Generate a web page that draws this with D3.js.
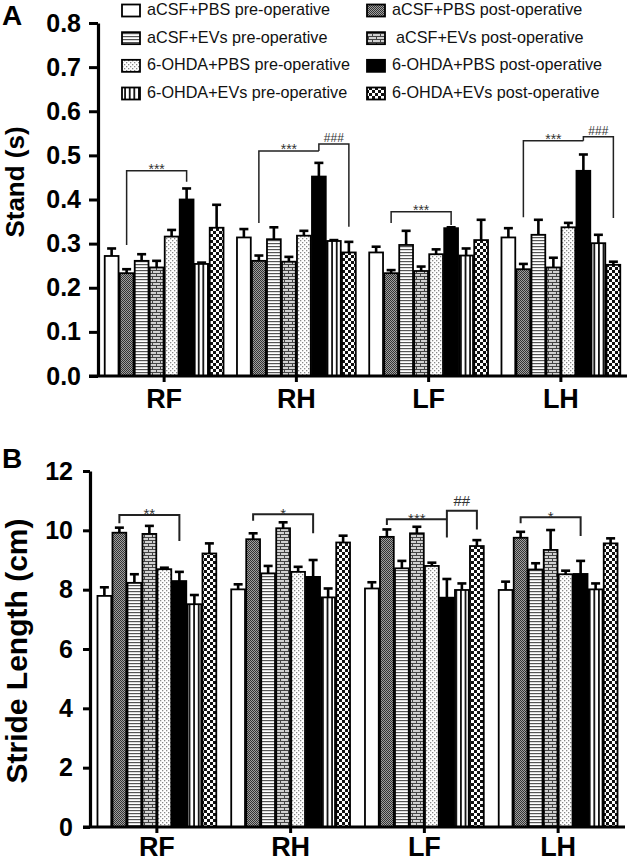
<!DOCTYPE html>
<html><head><meta charset="utf-8">
<script src="https://cdn.jsdelivr.net/npm/d3@7"></script>
<style>
body{margin:0;background:#fff}
svg{display:block}
text{font-family:"Liberation Sans",Arial,Helvetica,sans-serif}
</style>
</head><body>
<svg id="chart" width="630" height="863"></svg>
<script>
// ---------------- DATA ----------------
const categories = ["RF", "RH", "LF", "LH"];
const groups = [
  "aCSF+PBS pre-operative", "aCSF+PBS post-operative",
  "aCSF+EVs pre-operative", "aCSF+EVs post-operative",
  "6-OHDA+PBS pre-operative", "6-OHDA+PBS post-operative",
  "6-OHDA+EVs pre-operative", "6-OHDA+EVs post-operative"
];
// legend layout order (column 1: pre-operative, column 2: post-operative)
const legendOrder = [0, 2, 4, 6, 1, 3, 5, 7];

// Panel A: Stand (s), mean per group in each paw
const standRF = [0.272, 0.233, 0.261, 0.246, 0.316, 0.400, 0.254, 0.336];
const standRH = [0.314, 0.261, 0.310, 0.259, 0.318, 0.452, 0.306, 0.280];
const standLF = [0.280, 0.233, 0.297, 0.238, 0.276, 0.335, 0.273, 0.308];
const standLH = [0.314, 0.242, 0.320, 0.246, 0.337, 0.465, 0.301, 0.252];
// Panel A: SEM
const standErrRF = [0.017, 0.009, 0.015, 0.015, 0.015, 0.025, 0.003, 0.052];
const standErrRH = [0.019, 0.012, 0.027, 0.011, 0.011, 0.031, 0.002, 0.024];
const standErrLF = [0.013, 0.007, 0.032, 0.010, 0.011, 0.002, 0.016, 0.046];
const standErrLH = [0.021, 0.012, 0.034, 0.022, 0.010, 0.037, 0.019, 0.007];

// Panel B: Stride length (cm)
const strideRF = [7.79, 9.92, 8.23, 9.88, 8.69, 8.29, 7.51, 9.22];
const strideRH = [8.01, 9.70, 8.55, 10.07, 8.60, 8.43, 7.74, 9.59];
const strideLF = [8.04, 9.78, 8.72, 9.90, 8.80, 7.73, 7.99, 9.47];
const strideLH = [7.99, 9.75, 8.68, 9.34, 8.52, 8.53, 8.01, 9.56];
const strideErrRF = [0.29, 0.17, 0.29, 0.27, 0.05, 0.31, 0.31, 0.34];
const strideErrRH = [0.17, 0.20, 0.25, 0.20, 0.17, 0.57, 0.30, 0.23];
const strideErrLF = [0.21, 0.25, 0.25, 0.22, 0.11, 0.63, 0.22, 0.20];
const strideErrLH = [0.28, 0.20, 0.21, 0.67, 0.12, 0.44, 0.20, 0.17];

// Tick labels
const standTicks = [0, 0.1, 0.2, 0.3, 0.4, 0.5, 0.6, 0.7, 0.8];
const strideTicks = [0, 2, 4, 6, 8, 10, 12];

// Significance brackets (bar indices, heights in data units)
const standSig = [
  {cat: "RF", from: 1, to: 5, top: 0.465, left: 0.297, right: 0.440, label: "***"},
  {cat: "RH", from: 1, to: 5, top: 0.510, left: 0.347, right: 0.510, label: "***"},
  {cat: "RH", from: 5, to: 7, top: 0.526, left: 0.510, right: 0.338, label: "###"},
  {cat: "LF", from: 1, to: 5, top: 0.372, left: 0.347, right: 0.342, label: "***"},
  {cat: "LH", from: 1, to: 5, top: 0.533, left: 0.360, right: 0.533, label: "***"},
  {cat: "LH", from: 5, to: 7, top: 0.542, left: 0.533, right: 0.358, label: "###"}
];
const strideSig = [
  {cat: "RF", from: 1, to: 5, top: 10.52, left: 10.24, right: 9.64, label: "**"},
  {cat: "RH", from: 1, to: 5, top: 10.54, left: 10.32, right: 9.90, label: "*"},
  {cat: "LF", from: 1, to: 5, top: 10.37, left: 10.18, right: 10.37, label: "***"},
  {cat: "LF", from: 5, to: 7, top: 10.66, left: 9.76, right: 10.03, label: "##"},
  {cat: "LH", from: 1, to: 5, top: 10.44, left: 10.24, right: 9.81, label: "*"}
];

const standData = {RF: standRF, RH: standRH, LF: standLF, LH: standLH};
const standErr = {RF: standErrRF, RH: standErrRH, LF: standErrLF, LH: standErrLH};
const strideData = {RF: strideRF, RH: strideRH, LF: strideLF, LH: strideLH};
const strideErr = {RF: strideErrRF, RH: strideErrRH, LF: strideErrLF, LH: strideErrLH};

// ---------------- DRAW ----------------
const svg = d3.select("#chart");
const defs = svg.append("defs");

function pattern(id, w, h, build) {
  const p = defs.append("pattern").attr("id", id)
    .attr("patternUnits", "userSpaceOnUse").attr("width", w).attr("height", h);
  build(p);
}
pattern("pDark", 2, 2, p => {
  p.append("rect").attr("width", 2).attr("height", 2).attr("fill", "#a0a0a0");
  p.append("rect").attr("width", 1).attr("height", 1).attr("fill", "#333");
  p.append("rect").attr("x", 1).attr("y", 1).attr("width", 1).attr("height", 1).attr("fill", "#333");
});
pattern("pHLines", 4, 3, p => {
  p.append("rect").attr("width", 4).attr("height", 3).attr("fill", "#fff");
  p.append("rect").attr("width", 4).attr("height", 1.2).attr("fill", "#555");
});
pattern("pBrick", 8, 6, p => {
  p.append("rect").attr("width", 8).attr("height", 6).attr("fill", "#d2d2d2");
  p.append("rect").attr("width", 8).attr("height", 1).attr("fill", "#444");
  p.append("rect").attr("y", 3).attr("width", 8).attr("height", 1).attr("fill", "#444");
  p.append("rect").attr("x", 0).attr("width", 1).attr("height", 3).attr("fill", "#444");
  p.append("rect").attr("x", 4).attr("y", 3).attr("width", 1).attr("height", 3).attr("fill", "#444");
});
pattern("pDots", 4, 4, p => {
  p.append("rect").attr("width", 4).attr("height", 4).attr("fill", "#fff");
  p.append("rect").attr("width", 1.3).attr("height", 1.3).attr("fill", "#888");
  p.append("rect").attr("x", 2).attr("y", 2).attr("width", 1.3).attr("height", 1.3).attr("fill", "#888");
});
pattern("pVLines", 4.6, 2, p => {
  p.append("rect").attr("width", 4.6).attr("height", 2).attr("fill", "#fff");
  p.append("rect").attr("x", 0).attr("width", 1.8).attr("height", 2).attr("fill", "#111");
});
pattern("pCheck", 6, 6, p => {
  p.append("rect").attr("width", 6).attr("height", 6).attr("fill", "#fff");
  p.append("rect").attr("width", 3).attr("height", 3).attr("fill", "#111");
  p.append("rect").attr("x", 3).attr("y", 3).attr("width", 3).attr("height", 3).attr("fill", "#111");
});
const fills = ["#fff", "url(#pDark)", "url(#pHLines)", "url(#pBrick)", "url(#pDots)", "#000", "url(#pVLines)", "url(#pCheck)"];

// ---- Legend ----
const legendCol = d3.scaleOrdinal().domain([0, 1]).range([122, 367]);
const legendRow = d3.scaleLinear().domain([0, 3]).range([15, 98]);
const leg = svg.append("g");
legendOrder.forEach((gi, k) => {
  const col = Math.floor(k / 4), row = k % 4;
  const x0 = legendCol(col), yb = legendRow(row);
  leg.append("rect").attr("x", x0).attr("y", yb - 10.5).attr("width", 18).attr("height", 12)
    .attr("fill", fills[gi]).attr("stroke", "#000").attr("stroke-width", 1.8);
  leg.append("text").attr("x", x0 + 25 + (gi === 3 ? 4 : 0)).attr("y", yb)
    .attr("font-size", 16.2).attr("fill", "#111").text(groups[gi]);
});

function panel(opts) {
  const g = svg.append("g");
  const x = d3.scaleBand().domain(categories).range([opts.x0, opts.x1]);
  const inner = d3.scaleBand().domain(d3.range(8)).range([0, 120]).paddingInner(0.08).paddingOuter(0.04);
  const y = d3.scaleLinear().domain(opts.domain).range([opts.yb, opts.yt]);
  const gx = cat => x(cat) + (x.bandwidth() - 120) / 2;
  const cx = (cat, i) => gx(cat) + inner(i) + inner.bandwidth() / 2;

  // bars
  categories.forEach(cat => {
    const vals = opts.data[cat], errs = opts.err[cat];
    const bg = g.append("g");
    bg.selectAll("rect").data(vals).join("rect")
      .attr("x", (d, i) => gx(cat) + inner(i))
      .attr("y", d => y(d))
      .attr("width", inner.bandwidth())
      .attr("height", d => y(0) - y(d))
      .attr("fill", (d, i) => fills[i])
      .attr("stroke", "#000").attr("stroke-width", 1.8);
    // error bars
    const eb = g.append("g").attr("stroke", "#000").attr("stroke-width", 2.6);
    vals.forEach((v, i) => {
      const c = cx(cat, i);
      eb.append("line").attr("x1", c).attr("x2", c).attr("y1", y(v)).attr("y2", y(v + errs[i]));
      eb.append("line").attr("x1", c - 4.5).attr("x2", c + 4.5).attr("y1", y(v + errs[i])).attr("y2", y(v + errs[i]));
    });
  });

  // significance brackets
  opts.sig.forEach(s => {
    const xa = cx(s.cat, s.from), xb = cx(s.cat, s.to);
    g.append("path")
      .attr("d", `M${xa},${y(s.left)}V${y(s.top)}H${xb}V${y(s.right)}`)
      .attr("fill", "none").attr("stroke", "#222").attr("stroke-width", opts.sigStroke);
    const isHash = s.label.includes("#");
    g.append("text").attr("x", (xa + xb) / 2)
      .attr("y", y(s.top) + (isHash ? opts.hashDy : opts.starDy))
      .attr("text-anchor", "middle").attr("font-size", isHash ? opts.hashSize : opts.starSize)
      .attr("fill", "#333").text(s.label);
  });

  // y axis
  const ya = g.append("g").attr("transform", `translate(${opts.x0},0)`)
    .call(d3.axisLeft(y).tickValues(opts.ticks).tickFormat(opts.fmt)
      .tickSize(opts.tickLen).tickSizeOuter(0).tickPadding(opts.tickPad));
  ya.select(".domain").attr("stroke-width", 3.2);
  ya.selectAll(".tick line").attr("stroke-width", 3);
  ya.selectAll(".tick text").attr("font-size", opts.tickFont).attr("font-weight", "bold").attr("fill", "#000")
    .attr("font-family", "'Liberation Sans',Arial,sans-serif");

  // x axis
  const xa = g.append("g").attr("transform", `translate(0,${opts.yb})`)
    .call(d3.axisBottom(x).tickSize(6).tickSizeOuter(0));
  xa.select(".domain").attr("stroke-width", 3.2).attr("d", `M${opts.x0 - opts.tickLen},0H${opts.x1}`);
  xa.selectAll(".tick line").attr("stroke-width", 3);
  xa.selectAll(".tick text").attr("font-size", 27).attr("font-weight", "bold").attr("fill", "#000")
    .attr("font-family", "'Liberation Sans',Arial,sans-serif")
    .attr("dy", 0).attr("y", opts.catBase);

  // axis title
  g.append("text").attr("transform", `translate(${opts.titleX},${opts.titleY}) rotate(-90)`)
    .attr("text-anchor", "middle").attr("font-size", opts.titleSize).attr("font-weight", "bold")
    .text(opts.title);
  // panel letter
  g.append("text").attr("x", 2).attr("y", opts.letterY).attr("font-size", 28).attr("font-weight", "bold")
    .text(opts.letter);
}

panel({
  x0: 98, x1: 627, yb: 376, yt: 23, domain: [0, 0.8], ticks: standTicks, fmt: d3.format(".1f"),
  data: standData, err: standErr, sig: standSig,
  tickLen: 9, tickPad: 8, tickFont: 25, catBase: 32,
  title: "Stand (s)", titleX: 24, titleY: 182, titleSize: 26,
  letter: "A", letterY: 25, sigStroke: 1.5, starDy: 3.5, hashDy: -1.8, starSize: 14, hashSize: 12
});
panel({
  x0: 90, x1: 625, yb: 827, yt: 471, domain: [0, 12], ticks: strideTicks, fmt: d3.format("d"),
  data: strideData, err: strideErr, sig: strideSig,
  tickLen: 7, tickPad: 10, tickFont: 25, catBase: 29,
  title: "Stride Length (cm)", titleX: 27, titleY: 651, titleSize: 30,
  letter: "B", letterY: 468, sigStroke: 2, starDy: 4.5, hashDy: -4.7, starSize: 15, hashSize: 15
});
</script>
</body></html>
